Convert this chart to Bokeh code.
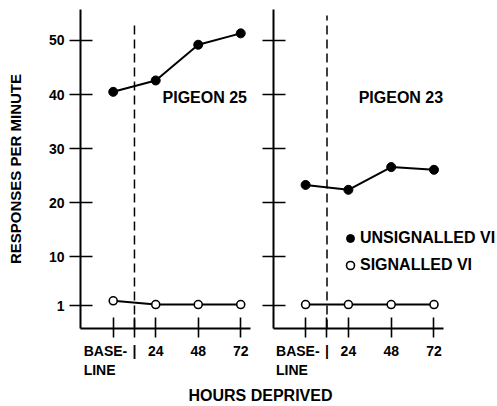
from bokeh.plotting import figure
from bokeh.models import Range1d, FixedTicker, Label, Legend, LegendItem
from bokeh.layouts import row, column
from bokeh.embed import file_html
from bokeh.resources import INLINE

# ---- data ----
conditions = ["BASE-", "LINE"]          # two-line label of the baseline condition
hours = ["24", "48", "72"]
cond_x = [0, 1, 2, 3]
divider_x = 0.5
y_ticks = [1, 10, 20, 30, 40, 50]

pigeon25_unsignalled = [40.5, 42.6, 49.2, 51.3]
pigeon25_signalled = [1.9, 1.2, 1.2, 1.2]
pigeon23_unsignalled = [23.3, 22.4, 26.6, 26.1]
pigeon23_signalled = [1.2, 1.2, 1.2, 1.2]

FONT = "Liberation Sans"
Y0, Y1 = -3.22, 55.71
NB = "\u00a0"


def style_axes(p, show_y_labels, x_bounds):
    for ax in (p.xaxis[0], p.yaxis[0]):
        ax.axis_line_width = 2
        ax.axis_line_color = "black"
        ax.major_tick_line_width = 1.6
        ax.major_tick_line_color = "black"
        ax.minor_tick_in = 0
        ax.minor_tick_out = 0
        ax.major_label_text_font = FONT
        ax.major_label_text_font_style = "bold"
        ax.major_label_text_font_size = "14px"
        ax.major_label_text_color = "black"
    xa = p.xaxis[0]
    xa.bounds = x_bounds
    xa.ticker = FixedTicker(ticks=[cond_x[0], divider_x] + cond_x[1:])
    # baseline label is left-aligned in the reference: pad lines on the right
    base_label = conditions[0] + NB * 4 + "\n" + conditions[1] + NB * 7
    overrides = {cond_x[0]: base_label, divider_x: "|"}
    for xv, lab in zip(cond_x[1:], hours):
        overrides[xv] = lab
    xa.major_label_overrides = overrides
    xa.major_tick_in = 11
    xa.major_tick_out = 9
    xa.major_label_standoff = 5
    ya = p.yaxis[0]
    ya.ticker = FixedTicker(ticks=y_ticks)
    ya.major_tick_in = 12
    ya.major_tick_out = 11
    if show_y_labels:
        ya.major_label_standoff = 5
        ya.axis_label = "RESPONSES PER MINUTE"
        ya.axis_label_text_font = FONT
        ya.axis_label_text_font_style = "bold"
        ya.axis_label_text_font_size = "15px"
        ya.axis_label_text_color = "black"
        ya.axis_label_standoff = 22
    else:
        ya.major_label_overrides = {t: "" for t in y_ticks}
        ya.major_label_standoff = 0


def panel(width, mb_left, mb_right, xr, x_bounds, unsig, sig, name, name_x, divider_top, show_y_labels):
    p = figure(width=width, height=380, x_range=Range1d(*xr), y_range=Range1d(Y0, Y1),
               output_backend="svg", toolbar_location=None,
               min_border_left=mb_left, min_border_right=mb_right,
               min_border_top=9, min_border_bottom=51)
    p.grid.visible = False
    p.outline_line_color = None
    p.background_fill_color = "white"
    p.border_fill_color = "white"
    style_axes(p, show_y_labels, x_bounds)

    p.segment(x0=[divider_x], y0=[Y0], x1=[divider_x], y1=[divider_top],
              line_color="black", line_width=1.5, line_dash="9 5")

    p.line(cond_x, unsig, line_color="black", line_width=2)
    r_un = p.scatter(cond_x, unsig, size=9, fill_color="black", line_color="black")
    p.line(cond_x, sig, line_color="black", line_width=2)
    r_sig = p.scatter(cond_x, sig, size=8, fill_color="white", line_color="black", line_width=1.6)

    p.add_layout(Label(x=name_x, y=39.4, text=name, text_font=FONT, text_font_style="bold",
                       text_font_size="16px", text_baseline="middle", text_color="black"))
    return p, r_un, r_sig


p1, _, _ = panel(253, 80, 3, (-0.77, 3.23), (-0.77, 3.23), pigeon25_unsignalled,
                 pigeon25_signalled, "PIGEON 25", 1.16, 53.5, True)
p2, r_un, r_sig = panel(244, 20, 0, (-0.75, 4.484), (-0.75, 3.22), pigeon23_unsignalled,
                        pigeon23_signalled, "PIGEON 23", 1.24, 54.6, False)

legend = Legend(items=[LegendItem(label="UNSIGNALLED VI", renderers=[r_un]),
                       LegendItem(label="SIGNALLED VI", renderers=[r_sig])],
                location=(67, 52), glyph_width=20, glyph_height=22, label_height=22,
                spacing=5, padding=0, margin=0, label_standoff=0,
                border_line_color=None, background_fill_alpha=0,
                label_text_font=FONT, label_text_font_style="bold",
                label_text_font_size="16px", label_text_color="black")
p2.add_layout(legend)

p3 = figure(width=497, height=26, x_range=Range1d(0, 497), y_range=Range1d(0, 26),
            x_axis_type=None, y_axis_type=None, output_backend="svg", toolbar_location=None,
            min_border=0, title=None)
p3.grid.visible = False
p3.outline_line_color = None
p3.add_layout(Label(x=260, y=11, text="HOURS DEPRIVED", text_font=FONT, text_font_style="bold",
                    text_font_size="16px", text_align="center", text_baseline="middle",
                    text_color="black"))

layout = column(row(p1, p2), p3)
open("out.html", "w").write(file_html(layout, INLINE))
